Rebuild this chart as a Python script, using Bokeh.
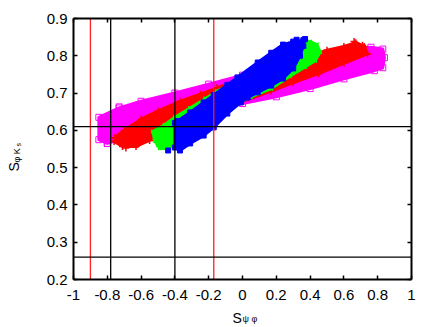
from math import pi
from bokeh.plotting import figure
from bokeh.models import Label, FixedTicker, CustomJSTickFormatter, LinearAxis, Range1d
from bokeh.embed import file_html
from bokeh.resources import INLINE

# ---- data ----
x_ticks = [-1.0, -0.8, -0.6, -0.4, -0.2, 0.0, 0.2, 0.4, 0.6, 0.8, 1.0]
y_ticks = [0.2, 0.3, 0.4, 0.5, 0.6, 0.7, 0.8, 0.9]
x_limits = [-1.0, 1.0]
y_limits = [0.2, 0.9]

# outlines of the four scatter clouds (S_psi_phi, S_phi_Ks)
pink_x = [-0.85, -0.73, -0.60, -0.40, -0.20, 0.00, 0.20, 0.40, 0.60, 0.76, 0.83, 0.84, 0.83,
          0.78, 0.60, 0.40, 0.20, 0.00, -0.20, -0.40, -0.60, -0.80, -0.85]
pink_y = [0.635, 0.660, 0.678, 0.700, 0.724, 0.748, 0.778, 0.800, 0.817, 0.823, 0.818, 0.795, 0.768,
          0.760, 0.738, 0.712, 0.690, 0.672, 0.650, 0.622, 0.592, 0.565, 0.575]

red_x = [-0.76, -0.70, -0.60, -0.50, -0.37, -0.25, -0.15, 0.00, 0.20, 0.40, 0.50, 0.60, 0.67, 0.72,
         0.74, 0.60, 0.45, 0.30, 0.17, 0.00, -0.20, -0.40, -0.55, -0.63, -0.71, -0.76]
red_y = [0.580, 0.600, 0.630, 0.652, 0.678, 0.697, 0.714, 0.740, 0.772, 0.800, 0.815, 0.825, 0.835, 0.825,
         0.805, 0.780, 0.752, 0.728, 0.705, 0.678, 0.645, 0.610, 0.573, 0.557, 0.557, 0.570]

green_x = [-0.53, -0.46, -0.40, -0.31, -0.22, -0.15, 0.00, 0.17, 0.28, 0.34, 0.40, 0.44, 0.46,
           0.43, 0.37, 0.28, 0.17, 0.05, -0.07, -0.19, -0.31, -0.40, -0.44, -0.49, -0.52]
green_y = [0.597, 0.615, 0.635, 0.660, 0.685, 0.705, 0.738, 0.775, 0.812, 0.828, 0.838, 0.830, 0.810,
           0.787, 0.770, 0.745, 0.712, 0.690, 0.665, 0.640, 0.605, 0.565, 0.551, 0.552, 0.572]

blue_x = [-0.40, -0.385, -0.31, -0.23, -0.17, -0.09, -0.03, 0.09, 0.17, 0.24, 0.30, 0.36,
          0.36, 0.34, 0.30, 0.24, 0.17, 0.09, 0.03, -0.01, -0.09, -0.17, -0.23, -0.31, -0.37, -0.40]
blue_y = [0.620, 0.625, 0.648, 0.675, 0.695, 0.722, 0.742, 0.782, 0.808, 0.830, 0.838, 0.842,
          0.826, 0.800, 0.766, 0.739, 0.720, 0.702, 0.688, 0.675, 0.645, 0.608, 0.586, 0.565, 0.546, 0.554]

# isolated points
pink_out_x = [-0.73, -0.80]
pink_out_y = [0.663, 0.565]
red_out_x = [-0.71, -0.69, -0.65, -0.62, -0.60, -0.47, 0.66, 0.71]
red_out_y = [0.575, 0.553, 0.565, 0.562, 0.570, 0.640, 0.838, 0.828]
green_out_x = [-0.50]
green_out_y = [0.560]
blue_out_x = [-0.44, 0.32, 0.37]
blue_out_y = [0.546, 0.843, 0.845]

# reference lines
red_vlines = [-0.90, -0.17]
black_vlines = [-0.78, -0.40]
black_hlines = [0.61, 0.26]

# ---- layout (pixels) ----
W, H = 436, 327
BOX_L, BOX_R, BOX_T, BOX_B = 73, 411, 18, 279
FONT = "Liberation Sans"

sx = (x_limits[1] - x_limits[0]) / (BOX_R - BOX_L)
sy = (y_limits[1] - y_limits[0]) / (BOX_B - BOX_T)
x_range = Range1d(x_limits[0] - BOX_L * sx, x_limits[1] + (W - BOX_R) * sx)
y_range = Range1d(y_limits[0] - (H - BOX_B) * sy, y_limits[1] + BOX_T * sy)


def px2x(px):
    return x_limits[0] + (px - BOX_L) * sx


def py2y(py):
    return y_limits[1] - (py - BOX_T) * sy


p = figure(width=W, height=H, x_range=x_range, y_range=y_range,
           output_backend="svg", toolbar_location=None,
           min_border=0, min_border_left=0, min_border_right=0, min_border_top=0, min_border_bottom=0)
p.grid.visible = False
p.outline_line_color = None
p.background_fill_color = "white"
p.border_fill_color = "white"

fmt = CustomJSTickFormatter(code="return tick.toFixed(1).replace(/\\.0$/, '');")
blank = CustomJSTickFormatter(code="return '';")


def style(ax, ticks, bounds, loc, labels=True):
    ax.ticker = FixedTicker(ticks=ticks)
    ax.bounds = tuple(bounds)
    ax.fixed_location = loc
    ax.formatter = fmt if labels else blank
    ax.axis_line_color = "black"
    ax.axis_line_width = 2
    ax.major_tick_in = 4
    ax.major_tick_out = 0
    ax.major_tick_line_width = 1.5
    ax.minor_tick_line_color = None
    ax.major_label_text_font = FONT
    ax.major_label_text_font_size = "15px" if labels else "1px"
    ax.major_label_text_color = "black"


for ax in p.xaxis:
    style(ax, x_ticks, x_limits, y_limits[0])
    ax.major_label_standoff = 10
for ax in p.yaxis:
    style(ax, y_ticks, y_limits, x_limits[0])
    ax.major_label_standoff = 6

ax_r = LinearAxis()
style(ax_r, y_ticks, y_limits, x_limits[1], labels=False)
ax_t = LinearAxis()
style(ax_t, x_ticks, x_limits, y_limits[1], labels=False)
p.add_layout(ax_r, "right")
p.add_layout(ax_t, "above")

# clouds
p.patch(pink_x, pink_y, fill_color="#ff00ff", line_color="#ff00ff", line_width=3, line_join="round")
p.scatter(pink_x + pink_out_x, pink_y + pink_out_y, marker="square", size=6,
          fill_color=None, line_color="#ff00ff", line_width=1)
p.patch(red_x, red_y, fill_color="#ff0000", line_color="#ff0000", line_width=3, line_join="round")
p.scatter(red_x + red_out_x, red_y + red_out_y, marker="cross", size=7,
          line_color="#ff0000", line_width=1.5)
p.patch(green_x, green_y, fill_color="#00ff00", line_color="#00ff00", line_width=3, line_join="round")
p.scatter(green_x + green_out_x, green_y + green_out_y, marker="x", size=5,
          line_color="#00ff00", line_width=1.5)
p.patch(blue_x, blue_y, fill_color="#0000ff", line_color="#0000ff", line_width=3, line_join="round")
p.scatter(blue_x + blue_out_x, blue_y + blue_out_y, marker="square", size=5,
          fill_color="#0000ff", line_color="#0000ff")

# reference lines, bounded by the plot box
p.segment(x0=red_vlines, y0=[y_limits[0]] * len(red_vlines), x1=red_vlines, y1=[y_limits[1]] * len(red_vlines),
          line_color="#ff2020", line_width=1.3)
p.segment(x0=black_vlines, y0=[y_limits[0]] * len(black_vlines), x1=black_vlines,
          y1=[y_limits[1]] * len(black_vlines), line_color="black", line_width=1.3)
p.segment(x0=[x_limits[0]] * len(black_hlines), y0=black_hlines, x1=[x_limits[1]] * len(black_hlines),
          y1=black_hlines, line_color="black", line_width=1.3)

# axis titles: S with subscripts
p.add_layout(Label(x=px2x(232), y=py2y(317), text="S", text_font=FONT, text_font_size="14px",
                   text_color="black", text_baseline="alphabetic", text_align="left"))
p.add_layout(Label(x=px2x(242), y=py2y(318), text="ψ φ", text_font=FONT, text_font_size="9px",
                   text_color="black", text_baseline="alphabetic", text_align="left"))

p.add_layout(Label(x=px2x(13), y=py2y(171), text="S", text_font=FONT, text_font_size="14px",
                   angle=pi / 2, text_color="black", text_baseline="alphabetic", text_align="left"))
p.add_layout(Label(x=px2x(16), y=py2y(162), text="φ K", text_font=FONT, text_font_size="9px",
                   angle=pi / 2, text_color="black", text_baseline="alphabetic", text_align="left"))
p.add_layout(Label(x=px2x(18), y=py2y(146), text="s", text_font=FONT, text_font_size="7px",
                   angle=pi / 2, text_color="black", text_baseline="alphabetic", text_align="left"))

open("out.html", "w").write(file_html(p, INLINE))
